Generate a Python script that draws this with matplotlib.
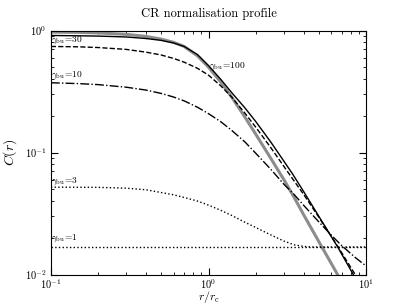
import numpy as np
import matplotlib
matplotlib.use("Agg")
import matplotlib.pyplot as plt

plt.rcParams['font.family'] = 'serif'
plt.rcParams['font.serif'] = ['cmr10']
plt.rcParams['mathtext.fontset'] = 'cm'
plt.rcParams['axes.formatter.use_mathtext'] = True

# values
r_gas = [0.1, 0.15, 0.2, 0.3, 0.4, 0.5, 0.6, 0.7, 0.85, 1.0, 1.2, 1.4, 1.7, 2.0,
         2.5, 3.0, 3.5, 4.0, 5.0, 6.0, 6.6]
c_gas = [0.97, 0.965, 0.955, 0.93, 0.895, 0.85, 0.80, 0.74, 0.62, 0.50, 0.375, 0.285,
         0.195, 0.14, 0.088, 0.060, 0.0425, 0.031, 0.0186, 0.0123, 0.0099]

r_100 = [0.1, 0.15, 0.2, 0.3, 0.4, 0.5, 0.6, 0.7, 0.85, 1.0, 1.2, 1.4, 1.7, 2.0,
         2.5, 3.0, 3.4, 4.0, 5.0, 6.55, 8.3]
c_100 = [0.91, 0.905, 0.90, 0.885, 0.86, 0.83, 0.79, 0.74, 0.635, 0.515, 0.395, 0.31,
         0.232, 0.178, 0.12, 0.085, 0.067, 0.048, 0.030, 0.017, 0.0099]

r_30 = [0.1, 0.15, 0.2, 0.3, 0.4, 0.5, 0.6, 0.7, 0.85, 1.0, 1.2, 1.4, 1.7, 2.0,
        2.5, 3.0, 3.5, 4.0, 5.0, 6.0, 7.0, 8.3, 8.6]
c_30 = [0.74, 0.735, 0.725, 0.70, 0.665, 0.63, 0.59, 0.55, 0.49, 0.43, 0.35, 0.285,
        0.21, 0.16, 0.108, 0.077, 0.058, 0.0455, 0.0295, 0.0205, 0.015, 0.0105, 0.0098]

r_10 = [0.1, 0.15, 0.2, 0.3, 0.4, 0.5, 0.6, 0.7, 0.85, 1.0, 1.2, 1.4, 1.7, 2.0,
        2.5, 3.0, 3.5, 4.0, 5.0, 6.0, 7.0, 8.5, 10.0]
c_10 = [0.373, 0.367, 0.36, 0.343, 0.325, 0.305, 0.285, 0.265, 0.235, 0.208, 0.178,
        0.152, 0.122, 0.098, 0.072, 0.055, 0.045, 0.037, 0.027, 0.021, 0.0172, 0.0138, 0.0117]

r_3 = [0.1, 0.2, 0.3, 0.4, 0.5, 0.6, 0.7, 0.85, 1.0, 1.2, 1.4, 1.7, 2.0, 2.5, 3.0,
       3.5, 4.0, 4.5, 10.0]
c_3 = [0.052, 0.0518, 0.051, 0.0495, 0.047, 0.045, 0.0428, 0.040, 0.037, 0.0335,
       0.0305, 0.0268, 0.0242, 0.021, 0.0188, 0.0175, 0.0170, 0.0168, 0.0168]

r_1 = [0.1, 10.0]
c_1 = [0.0168, 0.0168]

labels = [r'$\gamma_{\rm bu}\!=\!30$', r'$\gamma_{\rm bu}\!=\!10$', r'$\gamma_{\rm bu}\!=\!3$',
          r'$\gamma_{\rm bu}\!=\!1$', r'$\gamma_{\rm bu}\!=\!100$']
label_x = [0.1, 0.1, 0.1, 0.1, 1.0]
label_y = [0.75, 0.385, 0.0525, 0.0177, 0.455]

fig = plt.figure(figsize=(4.07, 3.05), dpi=100)
ax = fig.add_axes([0.125, 0.1, 0.775, 0.8])

ax.loglog(r_gas, c_gas, color='0.55', lw=2.2)
ax.loglog(r_100, c_100, 'k-', lw=1.0)
ax.loglog(r_30, c_30, 'k--', lw=1.0)
ax.loglog(r_10, c_10, 'k-.', lw=1.0)
ax.loglog(r_3, c_3, 'k:', lw=1.0)
ax.loglog(r_1, c_1, 'k:', lw=1.0)

for lab, lx, ly in zip(labels, label_x, label_y):
    ax.text(lx, ly, lab, fontsize=6.8, ha='left', va='bottom')

ax.set_xlim(0.1, 10)
ax.set_ylim(0.01, 1)
ax.set_xlabel(r'$r/r_{\rm c}$', fontsize=8.5, va='center')
ax.set_ylabel(r'$C(r)$', fontsize=10)
ax.xaxis.set_label_coords(0.5, -0.092)
ax.yaxis.set_label_coords(-0.1, 0.5)
ax.set_title('CR normalisation profile', fontsize=9, pad=10)
ax.tick_params(which='both', direction='in', top=True, right=True, labelsize=7.5)
ax.tick_params(axis='x', which='major', length=5, pad=2)
ax.tick_params(axis='y', which='major', length=5, pad=3)
ax.tick_params(which='minor', length=2.5)

fig.savefig('out.png', dpi=100)
